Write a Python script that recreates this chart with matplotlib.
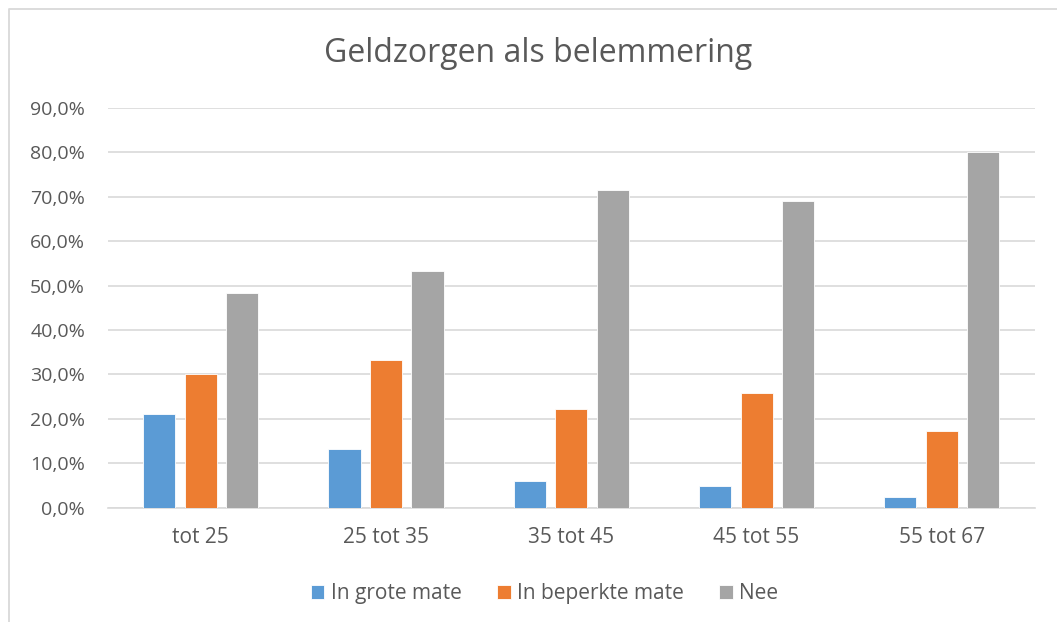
import matplotlib
matplotlib.use("Agg")
from matplotlib import pyplot as plt
from matplotlib.lines import Line2D
from matplotlib.ticker import FuncFormatter
import numpy as np

categories = ["tot 25", "25 tot 35", "35 tot 45", "45 tot 55", "55 tot 67"]
series_names = ["In grote mate", "In beperkte mate", "Nee"]
grote_mate = [21.1, 13.2, 5.9, 4.8, 2.3]
beperkte_mate = [30.1, 33.2, 22.2, 25.8, 17.3]
nee = [48.4, 53.2, 71.6, 69.1, 80.0]

colors = ["#5B9BD5", "#ED7D31", "#A5A5A5"]
text_color = "#595959"

plt.rcParams['font.family'] = ['Open Sans', 'DejaVu Sans']


def main():
    fig = plt.figure(figsize=(10.57, 6.22), dpi=100)
    # chart border: only top and left edges are visible in the original
    bx, by = 8.5 / 1057, 1 - 9 / 622
    fig.lines.append(Line2D([bx, bx, 1.0], [0.0, by, by], transform=fig.transFigure,
                            color="#D9D9D9", linewidth=1.3))
    ax = fig.add_axes([0.1022, 0.1838, 0.8766, 0.6426])

    x = np.arange(len(categories))
    pitch = 0.224
    width = 0.173
    for i, (vals, name) in enumerate(zip([grote_mate, beperkte_mate, nee], series_names)):
        ax.bar(x + (i - 1) * pitch, np.array(vals) / 100, width, color=colors[i],
               label=name, zorder=3, edgecolor="white", linewidth=0.6)

    ax.set_xlim(-0.5, len(categories) - 0.5)
    ax.set_ylim(0, 0.9)
    ax.set_yticks(np.arange(0, 0.91, 0.1))
    ax.yaxis.set_major_formatter(FuncFormatter(lambda v, _: f"{v * 100:.1f}%".replace(".", ",")))
    ax.set_xticks(x)
    ax.set_xticklabels(categories)
    ax.grid(axis="y", color="#D9D9D9", linewidth=1.2, zorder=0)
    for s in ["top", "right", "left"]:
        ax.spines[s].set_visible(False)
    ax.spines["bottom"].set_color("#D9D9D9")
    ax.spines["bottom"].set_linewidth(1.2)
    ax.tick_params(axis="both", length=0, colors=text_color)
    ax.tick_params(axis="y", labelsize=14, pad=16.5)
    ax.tick_params(axis="x", labelsize=15, pad=14)

    fig.text(0.5095, 0.914, "Geldzorgen als belemmering", ha="center", va="center",
             fontsize=23, color=text_color)

    ax.legend(loc="center", bbox_to_anchor=(0.471, -0.215), ncol=3, frameon=False,
              fontsize=15, labelcolor=text_color, handlelength=0.65, handleheight=0.65,
              handletextpad=0.3, columnspacing=1.7)

    fig.savefig("out.png", dpi=100)


if __name__ == '__main__':
    main()
